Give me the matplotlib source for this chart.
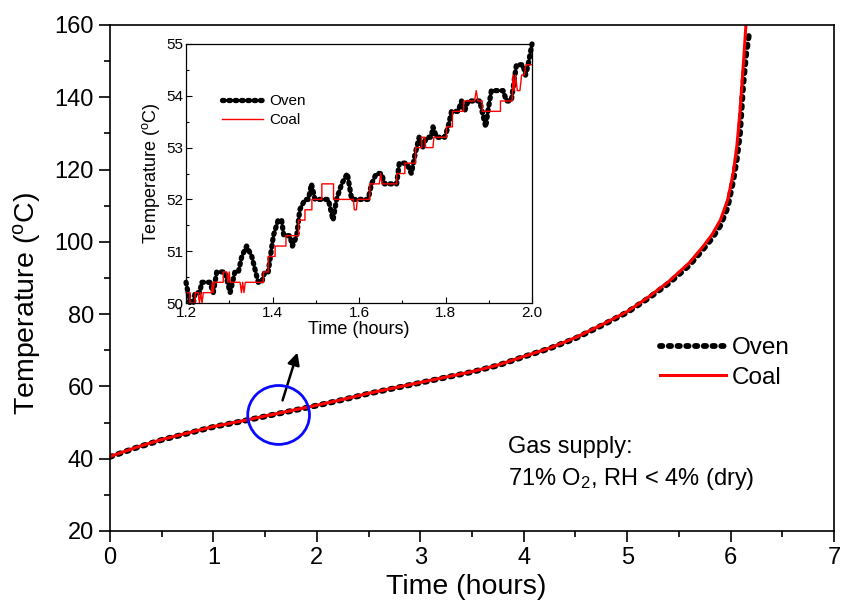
import numpy as np
import matplotlib
matplotlib.use('Agg')
import matplotlib.pyplot as plt
from matplotlib.patches import Ellipse

plt.rcParams['font.family'] = ['Liberation Sans', 'DejaVu Sans']
plt.rcParams['mathtext.fontset'] = 'custom'
plt.rcParams['mathtext.rm'] = 'Liberation Sans'
plt.rcParams['mathtext.it'] = 'Liberation Sans:italic'

# main curves (time in hours, temperature in C)
oven_t = [0, 0.25, 0.5, 0.75, 1.0, 1.25, 1.5, 1.75, 2.0, 2.25, 2.5, 2.75, 3.0, 3.25,
          3.5, 3.75, 4.0, 4.25, 4.5, 4.75, 5.0, 5.2, 5.4, 5.6, 5.73, 5.82, 5.9, 5.97,
          6.025, 6.06, 6.09, 6.12, 6.15, 6.18]
oven_T = [40.5, 43.0, 45.2, 47.0, 48.8, 50.2, 51.7, 53.2, 54.7, 56.3, 58.0, 59.5, 61.0, 62.5,
          64.0, 65.8, 68.2, 70.5, 73.3, 76.8, 80.5, 84.3, 88.5, 93.5, 97.8, 101.0, 104.5, 109.5,
          117.0, 123.0, 130.0, 143.0, 152.0, 158.0]

coal_t = [0, 0.25, 0.5, 0.75, 1.0, 1.25, 1.5, 1.75, 2.0, 2.25, 2.5, 2.75, 3.0, 3.25,
          3.5, 3.75, 4.0, 4.25, 4.5, 4.75, 5.0, 5.2, 5.4, 5.6, 5.73, 5.82, 5.9, 5.97,
          6.025, 6.06, 6.09, 6.12, 6.15]
coal_T = [40.6, 43.1, 45.3, 47.1, 48.9, 50.3, 51.8, 53.3, 54.8, 56.4, 58.1, 59.6, 61.1, 62.6,
          64.1, 65.9, 68.3, 70.6, 73.5, 77.0, 80.7, 84.6, 89.0, 94.2, 98.6, 102.0, 106.0, 111.5,
          119.0, 126.5, 136.0, 148.0, 161.0]

# inset: zoom 1.2 - 2.0 h
oven_inset = [(1.200, 50.4), (1.209, 50.0), (1.217, 50.0), (1.221, 50.2), (1.232, 50.2),
              (1.236, 50.4), (1.255, 50.4), (1.263, 50.2), (1.271, 50.6), (1.290, 50.6),
              (1.302, 50.2), (1.313, 50.6), (1.321, 50.6), (1.329, 50.9), (1.340, 51.1),
              (1.352, 50.9), (1.367, 50.4), (1.375, 50.4), (1.382, 50.6), (1.390, 50.6),
              (1.402, 51.3), (1.413, 51.6), (1.421, 51.6), (1.426, 51.3), (1.440, 51.3),
              (1.446, 51.1), (1.456, 51.3), (1.463, 51.8), (1.475, 52.0), (1.483, 52.0),
              (1.490, 52.3), (1.498, 52.0), (1.529, 52.0), (1.540, 51.6), (1.548, 52.0),
              (1.560, 52.3), (1.573, 52.5), (1.583, 52.0), (1.621, 52.0), (1.629, 52.3),
              (1.640, 52.5), (1.652, 52.5), (1.659, 52.3), (1.687, 52.3), (1.693, 52.7),
              (1.710, 52.7), (1.721, 52.5), (1.729, 52.85), (1.739, 53.2), (1.747, 53.0),
              (1.756, 53.2), (1.767, 53.2), (1.771, 53.4), (1.779, 53.2), (1.798, 53.2),
              (1.806, 53.4), (1.814, 53.7), (1.829, 53.7), (1.837, 53.9), (1.844, 53.7),
              (1.852, 53.9), (1.879, 53.9), (1.893, 53.4), (1.898, 53.7), (1.906, 54.1),
              (1.933, 54.1), (1.941, 53.9), (1.952, 53.9), (1.964, 54.6), (1.979, 54.6),
              (1.985, 54.4), (1.991, 54.6), (2.000, 55.0)]

coal_inset = [(1.200, 50.2), (1.209, 50.2), (1.209, 50.0), (1.221, 50.0), (1.221, 50.2), (1.228, 50.2),
              (1.231, 50.0), (1.234, 50.2), (1.237, 50.0), (1.240, 50.2), (1.259, 50.2),
              (1.261, 50.4), (1.263, 50.2), (1.265, 50.4), (1.286, 50.4), (1.286, 50.6), (1.294, 50.6),
              (1.297, 50.4), (1.300, 50.6), (1.302, 50.4), (1.325, 50.4),
              (1.328, 50.2), (1.331, 50.4), (1.334, 50.2), (1.337, 50.4), (1.379, 50.4), (1.379, 50.6),
              (1.390, 50.6), (1.390, 50.9), (1.406, 50.9), (1.406, 51.1), (1.431, 51.1), (1.431, 51.3),
              (1.460, 51.3), (1.460, 51.6), (1.475, 51.6), (1.475, 51.8), (1.491, 51.8), (1.491, 52.0),
              (1.514, 52.0), (1.514, 52.3), (1.541, 52.3), (1.541, 52.0), (1.587, 52.0), (1.589, 51.8),
              (1.594, 51.8), (1.596, 52.0), (1.625, 52.0), (1.625, 52.3), (1.647, 52.3), (1.650, 52.5),
              (1.653, 52.3), (1.687, 52.3), (1.687, 52.5), (1.706, 52.5), (1.706, 52.7), (1.731, 52.7),
              (1.731, 53.0), (1.745, 53.0), (1.745, 53.2), (1.752, 53.2), (1.754, 53.0), (1.771, 53.0),
              (1.773, 53.2), (1.802, 53.2), (1.802, 53.4), (1.816, 53.4), (1.816, 53.7), (1.842, 53.7),
              (1.842, 53.9), (1.867, 53.9), (1.871, 54.1), (1.875, 53.9), (1.885, 53.9), (1.885, 53.7),
              (1.927, 53.7), (1.927, 53.9), (1.954, 53.9), (1.956, 54.4), (1.959, 54.1), (1.962, 54.4),
              (1.966, 54.1), (1.972, 54.1), (1.976, 54.4), (1.982, 54.4), (1.986, 54.6), (2.000, 54.6)]

fig = plt.figure(figsize=(8.41, 6.01), dpi=100)
ax = fig.add_axes([0.1308, 0.1165, 0.861, 0.842])

ax.plot(oven_t, oven_T, lw=4.2, label='Oven', color='black',
        linestyle=(0, (0.4, 1.1)), dash_capstyle='round')
ax.plot(coal_t, coal_T, color='red', lw=2.2, label='Coal')
ax.set_xlim(0, 7)
ax.set_ylim(20, 160)
ax.set_xticks(range(0, 8))
ax.set_yticks(range(20, 161, 20))
ax.set_xticks(np.arange(0.5, 7, 1), minor=True)
ax.set_yticks(range(30, 160, 20), minor=True)
ax.tick_params(which='major', direction='out', length=8, width=1.2, labelsize=17,
               top=False, right=False)
ax.tick_params(which='minor', direction='out', length=4, width=1.2, top=False, right=False)
for sp in ax.spines.values():
    sp.set_linewidth(1.2)
ax.set_xlabel('Time (hours)', fontsize=20.5)
ax.set_ylabel(r'Temperature ($^{\rm o}$C)', fontsize=20.5)
ax.xaxis.set_label_coords(0.492, -0.085)
ax.yaxis.set_label_coords(-0.093, 0.45)

ax.legend(loc='center left', bbox_to_anchor=(0.785, 0.396), bbox_transform=fig.transFigure,
          frameon=False, fontsize=17.5, handlelength=2.7, handletextpad=0.25,
          labelspacing=0.3, borderpad=0, borderaxespad=0)

ax.text(3.85, 41.6, 'Gas supply:', fontsize=17, va='baseline')
ax.text(3.85, 32.7, r'71% O$_2$, RH < 4% (dry)', fontsize=17, va='baseline')

ax.add_patch(Ellipse((1.63, 52.1), 0.597, 16.3, fill=False, edgecolor='#0a0aff', lw=2.0, zorder=5))
ax.annotate('', xy=(1.82, 70.1), xytext=(1.66, 55.4),
            arrowprops=dict(arrowstyle='-|>', color='black', lw=1.8, mutation_scale=18))

# inset
axi = fig.add_axes([0.2212, 0.4958, 0.4114, 0.431])
ot, oT = zip(*oven_inset)
ct, cT = zip(*coal_inset)
axi.plot(ot, oT, lw=3.8, label='Oven', color='black', linestyle=(0, (0.3, 0.9)),
         dash_capstyle='round', clip_on=False)
axi.plot(ct, cT, color='red', lw=1.0, label='Coal', clip_on=False)
axi.set_xlim(1.2, 2.0)
axi.set_ylim(50, 55)
axi.set_xticks([1.2, 1.4, 1.6, 1.8, 2.0])
axi.set_xticklabels(['1.2', '1.4', '1.6', '1.8', '2.0'])
axi.set_xticks(np.arange(1.3, 2.0, 0.2), minor=True)
axi.set_yticks(range(50, 56))
axi.set_yticks(np.arange(50.5, 55, 1), minor=True)
axi.tick_params(which='major', direction='in', length=4, width=0.8, labelsize=11, pad=2)
axi.tick_params(which='minor', direction='in', length=2.5, width=0.8)
for sp in axi.spines.values():
    sp.set_linewidth(0.9)
axi.set_xlabel('Time (hours)', fontsize=13, labelpad=1)
axi.set_ylabel(r'Temperature ($^{\rm o}$C)', fontsize=13, labelpad=3)
axi.legend(loc='center left', bbox_to_anchor=(0.264, 0.816), bbox_transform=fig.transFigure,
           frameon=False, fontsize=11, handlelength=2.7, handletextpad=0.4,
           labelspacing=0.35, borderpad=0, borderaxespad=0)

fig.savefig('out.png', dpi=100)
